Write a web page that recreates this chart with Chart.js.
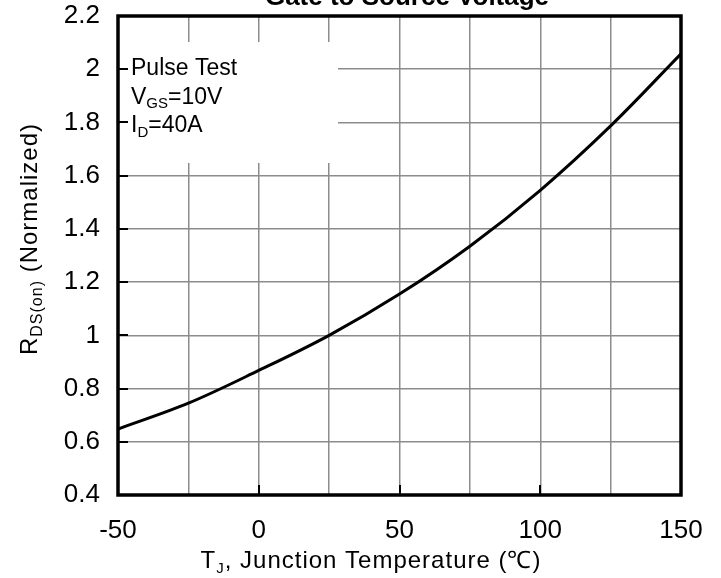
<!DOCTYPE html>
<html>
<head>
<meta charset="utf-8">
<script src="https://cdn.jsdelivr.net/npm/chart.js@4.4.0/dist/chart.umd.min.js"></script>
<style>
  html, body { margin: 0; padding: 0; background: #fff; }
  #wrap { width: 721px; height: 578px; }
</style>
</head>
<body>
<div id="wrap"><canvas id="myChart1" width="721" height="578"></canvas></div>
<script>
// junction temperature (C) and normalized Rds(on)
const temps = [-50, -25, 0, 25, 50, 75, 100, 125, 150];
const rdsOn = [0.648, 0.745, 0.868, 1.0, 1.155, 1.335, 1.545, 1.787, 2.058];
const xTicks = [-50, 0, 50, 100, 150];
const yTicks = [0.4, 0.6, 0.8, 1, 1.2, 1.4, 1.6, 1.8, 2, 2.2];

const FONT = '"Liberation Sans", Arial, sans-serif';

// draws text pieces with subscripts, centered on cx
function drawRich(ctx, parts, cx, y, size, subSize) {
    let total = 0;
    parts.forEach(p => {
        ctx.font = (p.sub ? subSize : size) + 'px ' + FONT;
        p.w = ctx.measureText(p.t).width;
        total += p.w;
    });
    let x = cx - total / 2;
    ctx.textAlign = 'left';
    ctx.textBaseline = 'alphabetic';
    parts.forEach(p => {
        ctx.font = (p.sub ? subSize : size) + 'px ' + FONT;
        ctx.fillText(p.t, x, p.sub ? y + 5 : y);
        x += p.w;
    });
}

const decor = {
    id: 'decor',
    afterDraw(chart) {
        const ctx = chart.ctx;
        const a = chart.chartArea;
        const xs = chart.scales.x, ys = chart.scales.y;
        ctx.save();

        // box with test conditions
        ctx.fillStyle = '#fff';
        ctx.fillRect(a.left + 2, 42, 218, 121);
        ctx.fillStyle = '#000';
        ctx.textAlign = 'left';
        ctx.textBaseline = 'alphabetic';
        ctx.font = '23px ' + FONT;
        ctx.fillText('Pulse Test', 131, 75);
        let x = 131;
        ctx.fillText('V', x, 104); x += ctx.measureText('V').width;
        ctx.font = '15px ' + FONT;
        ctx.fillText('GS', x, 108); x += ctx.measureText('GS').width;
        ctx.font = '23px ' + FONT;
        ctx.fillText('=10V', x, 104);
        x = 131;
        ctx.fillText('I', x, 132); x += ctx.measureText('I').width;
        ctx.font = '15px ' + FONT;
        ctx.fillText('D', x, 137); x += ctx.measureText('D').width;
        ctx.font = '23px ' + FONT;
        ctx.fillText('=40A', x, 132);

        // inner tick marks
        ctx.strokeStyle = '#000';
        ctx.lineWidth = 2;
        ctx.beginPath();
        yTicks.forEach(v => {
            const py = Math.round(ys.getPixelForValue(v));
            ctx.moveTo(a.left, py); ctx.lineTo(a.left + 10, py);
        });
        xTicks.forEach(v => {
            const px = Math.round(xs.getPixelForValue(v));
            ctx.moveTo(px, a.bottom); ctx.lineTo(px, a.bottom - 10);
        });
        ctx.stroke();

        // frame
        ctx.lineWidth = 3.5;
        ctx.strokeRect(a.left, a.top, a.right - a.left, a.bottom - a.top);

        // title (its first line is cut off in the source)
        ctx.font = 'bold 26px ' + FONT;
        ctx.textAlign = 'center';
        ctx.fillText('Gate to Source Voltage', 407, 5);

        // axis titles
        ctx.letterSpacing = '1px';
        drawRich(ctx, [{t: 'T'}, {t: 'J', sub: true}, {t: ', Junction Temperature (\u2103)'}], 371, 568, 24, 15);
        ctx.translate(37, 239);
        ctx.rotate(-Math.PI / 2);
        drawRich(ctx, [{t: 'R'}, {t: 'DS(on)', sub: true}, {t: ' (Normalized)'}], 0, 0, 24, 16);
        ctx.restore();
    }
};

new Chart(document.getElementById('myChart1'), {
    type: 'line',
    data: {
        labels: temps,
        datasets: [{
            data: temps.map((t, i) => ({x: t, y: rdsOn[i]})),
            borderColor: '#000',
            borderWidth: 3,
            pointRadius: 0,
            tension: 0.35,
            fill: false
        }]
    },
    options: {
        responsive: false,
        animation: false,
        layout: { padding: { top: 16, right: 40, left: 0, bottom: 0 } },
        plugins: {
            legend: { display: false },
            tooltip: { enabled: false }
        },
        scales: {
            x: {
                type: 'linear',
                min: -50,
                max: 150,
                afterBuildTicks: axis => {
                    axis.ticks = [-50, -25, 0, 25, 50, 75, 100, 125, 150].map(v => ({value: v}));
                },
                afterFit: axis => {
                    axis.height = 83;
                    axis.paddingLeft = 0;
                    axis.paddingRight = 0;
                },
                grid: { color: '#8c8c8c', lineWidth: 1.5, drawTicks: false },
                border: { display: false },
                ticks: {
                    padding: 20,
                    color: '#000',
                    font: { size: 26, family: FONT },
                    maxRotation: 0,
                    autoSkip: false,
                    callback: v => (v % 50 === 0 ? String(v) : '')
                }
            },
            y: {
                min: 0.4,
                max: 2.2,
                afterBuildTicks: axis => {
                    axis.ticks = yTicks.map(v => ({value: v}));
                },
                afterFit: axis => {
                    axis.width = 118;
                    axis.paddingTop = 0;
                    axis.paddingBottom = 0;
                },
                grid: { color: '#8c8c8c', lineWidth: 1.5, drawTicks: false },
                border: { display: false },
                ticks: {
                    padding: 18,
                    color: '#000',
                    font: { size: 26, family: FONT },
                    callback: v => String(Math.round(v * 10) / 10)
                }
            }
        }
    },
    plugins: [decor]
});
</script>
</body>
</html>
